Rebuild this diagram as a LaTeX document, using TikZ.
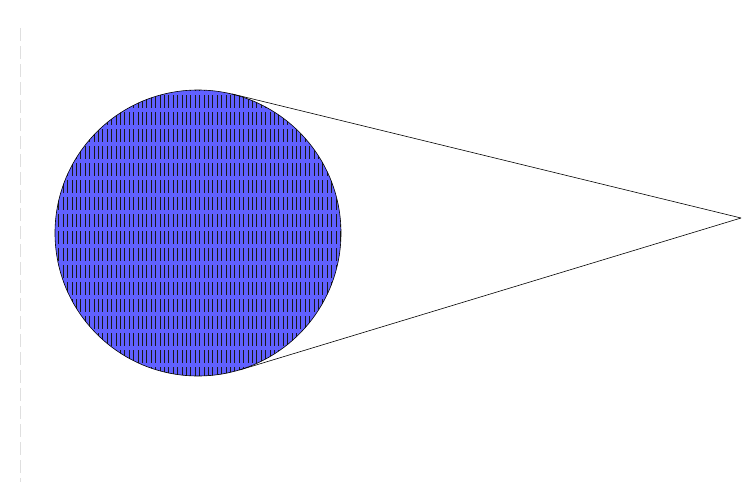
\documentclass[tikz,border=0pt]{standalone}
\usetikzlibrary{calc}
\definecolor{ballblue}{RGB}{96,96,255}
\tikzset{
	ball/.style={circle, inner sep=0pt, fill=ballblue},
	tick/.style={line width=0.6pt, black!90},
	outline/.style={line width=0.6pt},
	ray/.style={line width=0.6pt},
	guide/.style={gray!25, line width=0.8pt, dash pattern=on 13pt off 5pt}
}
\begin{document}
\begin{tikzpicture}[x=1pt, y=-1pt]
	% frame
	\useasboundingbox (0,0) rectangle (744,498);
	% radius
	\def\ballRadius {143};
	% guide line on the left
	\coordinate (guide_top) at (20,28);
	\coordinate (guide_bottom) at (20,482);
	\draw[guide] (guide_top) -- (guide_bottom);
	% ball and apex
	\node[ball, minimum size=2*\ballRadius pt] (ball) at (198,233) {};
	\coordinate (apex) at (741,218);
	% ticks inside the ball
	\begin{scope}
		\clip (ball.center) circle[radius=\ballRadius];
		\foreach \col in {-2,...,68}
		{
			\foreach \row in {0,...,17}
			{
				\draw[tick] (54.3+4.4*\col, 78.3+17*\row) -- ++(0,13);
			}
		}
	\end{scope}
	\draw[outline] (ball.center) circle[radius=\ballRadius];
	% tangent points
	\coordinate (touch_1) at (tangent cs:node=ball,point={(apex)},solution=1);
	\coordinate (touch_2) at (tangent cs:node=ball,point={(apex)},solution=2);
	% rays
	\foreach \index in {1,2}
	{
		\draw[ray] (apex) -- (touch_\index);
	}
\end{tikzpicture}
\end{document}
